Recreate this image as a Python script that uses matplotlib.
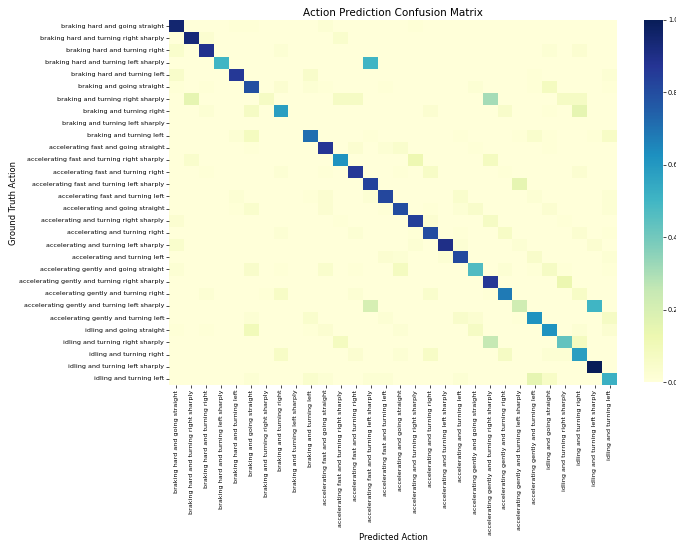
import matplotlib
matplotlib.use("Agg")
import matplotlib.pyplot as plt
import numpy as np
import seaborn as sns

actions = [
    "braking hard and going straight",
    "braking hard and turning right sharply",
    "braking hard and turning right",
    "braking hard and turning left sharply",
    "braking hard and turning left",
    "braking and going straight",
    "braking and turning right sharply",
    "braking and turning right",
    "braking and turning left sharply",
    "braking and turning left",
    "accelerating fast and going straight",
    "accelerating fast and turning right sharply",
    "accelerating fast and turning right",
    "accelerating fast and turning left sharply",
    "accelerating fast and turning left",
    "accelerating and going straight",
    "accelerating and turning right sharply",
    "accelerating and turning right",
    "accelerating and turning left sharply",
    "accelerating and turning left",
    "accelerating gently and going straight",
    "accelerating gently and turning right sharply",
    "accelerating gently and turning right",
    "accelerating gently and turning left sharply",
    "accelerating gently and turning left",
    "idling and going straight",
    "idling and turning right sharply",
    "idling and turning right",
    "idling and turning left sharply",
    "idling and turning left",
]

# diagonal (correct predictions)
diag = [0.95, 0.93, 0.89, 0.50, 0.86, 0.79, 0.07, 0.58, 0.00, 0.71,
        0.87, 0.62, 0.86, 0.83, 0.82, 0.80, 0.84, 0.80, 0.90, 0.81,
        0.47, 0.86, 0.68, 0.22, 0.62, 0.62, 0.43, 0.58, 1.00, 0.52]

# (true row, predicted col, share) for the off-diagonal cells
off_diag = [
    (0, 4, 0.01), (0, 5, 0.01), (0, 10, 0.02), (0, 16, 0.01),
    (1, 2, 0.03), (1, 11, 0.04),
    (2, 0, 0.04), (2, 7, 0.02), (2, 25, 0.02), (2, 27, 0.03),
    (3, 13, 0.50),
    (4, 0, 0.05), (4, 9, 0.05), (4, 24, 0.01), (4, 29, 0.02),
    (5, 0, 0.01), (5, 2, 0.01), (5, 7, 0.03), (5, 9, 0.02), (5, 10, 0.01),
    (5, 14, 0.01), (5, 20, 0.02), (5, 24, 0.01), (5, 25, 0.08), (5, 29, 0.01),
    (6, 1, 0.15), (6, 11, 0.07), (6, 12, 0.07), (6, 21, 0.31),
    (6, 26, 0.07), (6, 27, 0.07),
    (7, 2, 0.02), (7, 5, 0.07), (7, 17, 0.03), (7, 22, 0.05),
    (7, 25, 0.01), (7, 27, 0.15),
    (9, 4, 0.02), (9, 5, 0.08), (9, 13, 0.01), (9, 19, 0.01), (9, 23, 0.01),
    (9, 24, 0.04), (9, 25, 0.01), (9, 28, 0.01), (9, 29, 0.06),
    (10, 5, 0.01), (10, 12, 0.03), (10, 14, 0.02), (10, 15, 0.04),
    (10, 20, 0.01), (10, 25, 0.01),
    (11, 1, 0.04), (11, 16, 0.12), (11, 21, 0.08),
    (12, 2, 0.01), (12, 7, 0.02), (12, 10, 0.01), (12, 15, 0.01),
    (12, 17, 0.06), (12, 22, 0.01), (12, 27, 0.03),
    (13, 23, 0.15),
    (14, 4, 0.02), (14, 9, 0.01), (14, 10, 0.03), (14, 13, 0.02),
    (14, 19, 0.04), (14, 24, 0.02), (14, 29, 0.02),
    (15, 4, 0.01), (15, 5, 0.04), (15, 10, 0.03), (15, 14, 0.01), (15, 17, 0.01),
    (15, 19, 0.02), (15, 20, 0.05), (15, 25, 0.03), (15, 29, 0.02),
    (16, 0, 0.03), (16, 11, 0.01), (16, 17, 0.03), (16, 21, 0.07), (16, 26, 0.01),
    (17, 7, 0.02), (17, 12, 0.02), (17, 16, 0.01), (17, 19, 0.01),
    (17, 22, 0.06), (17, 27, 0.03), (17, 29, 0.01),
    (18, 0, 0.04), (18, 16, 0.02), (18, 19, 0.02), (18, 23, 0.02), (18, 28, 0.03),
    (19, 14, 0.03), (19, 15, 0.02), (19, 18, 0.02), (19, 24, 0.05), (19, 29, 0.02),
    (20, 0, 0.02), (20, 5, 0.05), (20, 7, 0.01), (20, 10, 0.04), (20, 12, 0.01),
    (20, 15, 0.08), (20, 22, 0.02), (20, 24, 0.01), (20, 25, 0.07),
    (20, 26, 0.01), (20, 29, 0.01),
    (21, 26, 0.13),
    (22, 2, 0.02), (22, 6, 0.01), (22, 7, 0.06), (22, 12, 0.02),
    (22, 17, 0.04), (22, 21, 0.01), (22, 27, 0.06),
    (23, 13, 0.20), (23, 28, 0.50),
    (24, 5, 0.02), (24, 9, 0.04), (24, 14, 0.02), (24, 19, 0.05),
    (24, 20, 0.03), (24, 23, 0.01), (24, 29, 0.07),
    (25, 0, 0.01), (25, 2, 0.01), (25, 5, 0.10), (25, 9, 0.01), (25, 10, 0.03),
    (25, 15, 0.02), (25, 20, 0.07), (25, 27, 0.02), (25, 29, 0.03),
    (26, 11, 0.08), (26, 21, 0.25), (26, 27, 0.08),
    (27, 7, 0.06), (27, 12, 0.03), (27, 15, 0.02), (27, 17, 0.06),
    (27, 22, 0.07), (27, 25, 0.02), (27, 26, 0.02),
    (29, 5, 0.02), (29, 9, 0.04), (29, 10, 0.02), (29, 13, 0.02),
    (29, 14, 0.02), (29, 19, 0.02), (29, 24, 0.15), (29, 25, 0.06),
]

n = len(actions)
cm = np.zeros((n, n))
cm[np.arange(n), np.arange(n)] = diag
for r, c, v in off_diag:
    cm[r, c] = v

fig = plt.figure(figsize=(6.76, 5.43), dpi=100)
ax = fig.add_axes([0.25, 0.291, 0.6627, 0.672])
cax = fig.add_axes([0.9527, 0.2965, 0.0281, 0.6667])

sns.heatmap(cm, ax=ax, cbar_ax=cax, cmap="YlGnBu", vmin=0, vmax=1,
            xticklabels=actions, yticklabels=actions)

ax.set_title("Action Prediction Confusion Matrix", fontsize=7.5, pad=3)
ax.set_xlabel("Predicted Action", fontsize=6)
ax.set_ylabel("Ground Truth Action", fontsize=6)
ax.xaxis.set_label_coords(0.5, -0.405)
ax.yaxis.set_label_coords(-0.337, 0.5)
ax.tick_params(axis="both", labelsize=4.6, length=2, width=0.5, pad=1.5)
plt.setp(ax.get_xticklabels(), rotation=90)
plt.setp(ax.get_yticklabels(), rotation=0)

cax.tick_params(labelsize=4.8, length=2, width=0.5, pad=1.5)
cax.set_yticks([0, 0.2, 0.4, 0.6, 0.8, 1.0])

fig.savefig("out.png", dpi=100)
